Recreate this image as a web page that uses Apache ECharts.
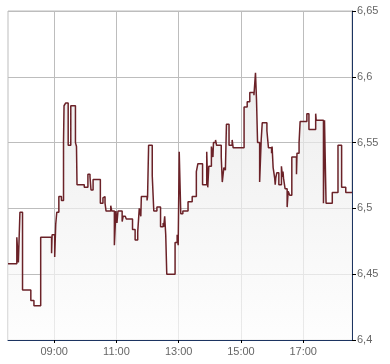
<!DOCTYPE html>
<html>
<head>
<meta charset="utf-8">
<script src="https://cdn.jsdelivr.net/npm/echarts@6/dist/echarts.min.js"></script>
<style>
html,body{margin:0;padding:0;background:#fff;}
#chart{width:390px;height:364px;}
</style>
</head>
<body>
<div id="chart"></div>
<script>
// Trade times (HH:MM) at which the price changes, and the new price
const times = [
  "07:31","07:48","07:51","07:54","07:59","08:15","08:21","08:34","08:55","08:56",
  "09:01","09:03","09:05","09:09","09:14","09:18","09:19","09:22","09:27","09:32",
  "09:41","09:43","09:44","09:58","10:05","10:09","10:11","10:15","10:29","10:34",
  "10:36","10:38","10:40","10:49","10:51","10:56","10:59","11:01","11:03","11:11",
  "11:13","11:17","11:19","11:31","11:36","11:41","11:44","11:47","11:48","11:59",
  "12:00","12:02","12:09","12:12","12:18","12:25","12:30","12:31","12:33","12:35",
  "12:37","12:53","12:57","12:59","13:01","13:04","13:08","13:18","13:26","13:34",
  "13:37","13:46","13:54","13:56","13:58","14:03","14:06","14:07","14:11","14:13",
  "14:22","14:24","14:27","14:30","14:32","14:37","14:43","14:45","14:56","14:58",
  "15:06","15:12","15:17","15:25","15:28","15:30","15:32","15:36","15:39","15:41",
  "15:50","15:53","15:59","16:00","16:02","16:05","16:06","16:07","16:09","16:13",
  "16:18","16:20","16:21","16:22","16:25","16:29","16:31","16:34","16:38","16:47",
  "16:48","16:52","16:54","17:07","17:11","17:24","17:25","17:39","17:41","17:44",
  "17:56","18:07","18:14","18:22","18:34"
];
const prices = [
  6.458,6.478,6.459,6.497,6.438,6.430,6.426,6.478,6.466,6.480,
  6.463,6.488,6.497,6.509,6.506,6.550,6.578,6.580,6.548,6.578,
  6.550,6.547,6.518,6.516,6.526,6.524,6.514,6.522,6.504,6.508,
  6.509,6.504,6.498,6.502,6.498,6.472,6.498,6.489,6.498,6.490,
  6.494,6.494,6.492,6.484,6.476,6.482,6.500,6.494,6.509,6.506,
  6.509,6.548,6.525,6.498,6.501,6.486,6.489,6.486,6.494,6.480,
  6.450,6.474,6.480,6.472,6.543,6.496,6.498,6.505,6.509,6.528,
  6.534,6.518,6.543,6.516,6.532,6.547,6.539,6.550,6.552,6.548,
  6.539,6.520,6.531,6.529,6.564,6.548,6.552,6.546,6.547,6.546,
  6.577,6.581,6.588,6.586,6.603,6.582,6.550,6.520,6.552,6.565,
  6.559,6.546,6.542,6.547,6.531,6.523,6.518,6.523,6.527,6.518,
  6.532,6.524,6.528,6.523,6.515,6.501,6.513,6.510,6.539,6.526,
  6.542,6.550,6.566,6.572,6.560,6.572,6.567,6.504,6.567,6.504,
  6.512,6.548,6.516,6.512,6.512
];
const xTickLabels = ["09:00","11:00","13:00","15:00","17:00"];
const yTicks = [6.4,6.45,6.5,6.55,6.6,6.65];
const xStart = "07:31";
const xEnd = "18:34";

function toMin(s){ const p = s.split(":"); return (+p[0])*60 + (+p[1]); }
function fmtTime(m){ const h = Math.floor(m/60), mm = Math.round(m%60); return (h<10?"0":"")+h+":"+(mm<10?"0":"")+mm; }

const seriesData = times.map((t,i)=>[toMin(t), prices[i]]);
const xTickValues = xTickLabels.map(toMin);

const chart = echarts.init(document.getElementById('chart'), null, {renderer:'canvas'});
const font = "'Liberation Sans', Arial, sans-serif";
chart.setOption({
  animation:false,
  backgroundColor:'#ffffff',
  grid:{left:8,right:38,top:11,bottom:24,show:true,borderColor:'#bdbdbd',borderWidth:1,backgroundColor:'transparent'},
  xAxis:{
    type:'value',
    min:toMin(xStart), max:toMin(xEnd),
    axisLine:{show:true,onZero:false,lineStyle:{color:'#1c3461',width:1}},
    axisTick:{show:true,length:3,inside:false,customValues:xTickValues,lineStyle:{color:'#000'}},
    axisLabel:{customValues:xTickValues,formatter:v=>fmtTime(v),color:'#666',fontFamily:font,fontSize:11,margin:6},
    splitLine:{show:true,lineStyle:{color:'#bdbdbd',width:1}}
  },
  yAxis:{
    type:'value',position:'right',
    min:yTicks[0],max:yTicks[yTicks.length-1],interval:0.05,
    axisLine:{show:true,lineStyle:{color:'#1c3461',width:1}},
    axisTick:{show:true,length:4,lineStyle:{color:'#000'}},
    axisLabel:{formatter:v=>String(+v.toFixed(2)).replace('.',','),color:'#666',fontFamily:font,fontSize:11,margin:5},
    splitLine:{show:true,lineStyle:{color:'#bdbdbd',width:1}}
  },
  series:[{
    type:'line',step:'end',symbol:'none',
    data:seriesData,
    lineStyle:{color:'#6b2228',width:1.5},
    areaStyle:{color:new echarts.graphic.LinearGradient(0,0,0,1,[{offset:0,color:'#e6e6e6'},{offset:1,color:'#fdfdfd'}])}
  }]
});
</script>
</body>
</html>
